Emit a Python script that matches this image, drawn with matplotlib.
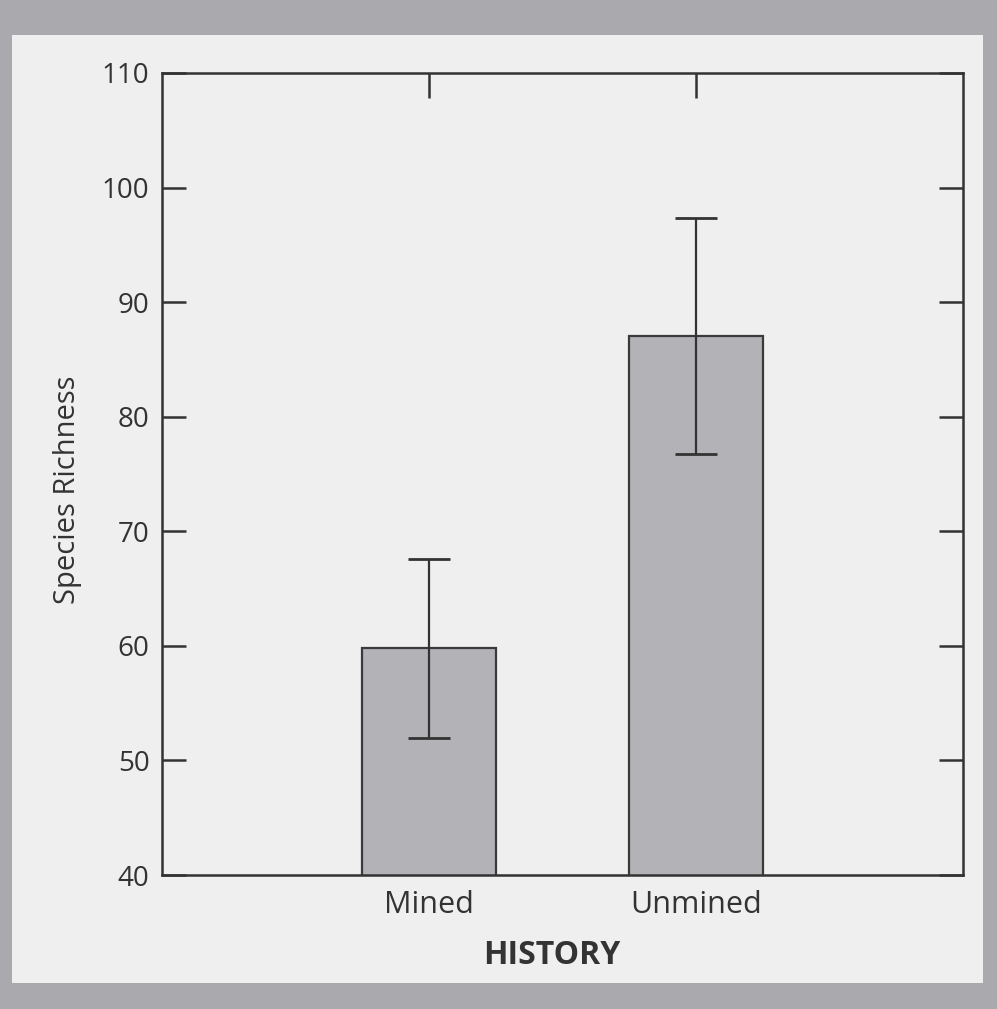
import matplotlib.pyplot as plt
import matplotlib.patches as patches

categories = ['Mined', 'Unmined']
means = [59.8, 87.0]
errors = [7.8, 10.3]
y_ticks = [40, 50, 60, 70, 80, 90, 100, 110]

plt.rcParams['font.family'] = ['Open Sans', 'DejaVu Sans']

fig = plt.figure(figsize=(9.97, 10.09), dpi=100)
fig.patch.set_facecolor('#a9a9ae')
# light page panel inside the grey scan border
fig.patches.append(patches.Rectangle((12 / 997, 1 - 983 / 1009), 971 / 997, 948 / 1009,
                                     transform=fig.transFigure, facecolor='#efeff0',
                                     edgecolor='none', zorder=-10))

ax = fig.add_axes([0.1625, 0.1328, 0.8034, 0.7949])
ax.set_facecolor('#efeff0')

x = list(range(len(categories)))
ax.bar(x, means, width=0.5, color='#b3b3b7', edgecolor='#3a3a3a', linewidth=1.6, zorder=2)
ax.errorbar(x, means, yerr=errors, fmt='none', ecolor='#333333', elinewidth=1.6,
            capsize=15, capthick=2, zorder=3)

ax.set_xlim(-1, 2)
ax.set_ylim(40, 110)
ax.set_yticks(y_ticks)
ax.set_xticks(x)
ax.set_xticklabels(categories)

for s in ax.spines.values():
    s.set_linewidth(1.8)
    s.set_color('#333333')

ax.tick_params(axis='y', direction='in', length=17, width=1.8, color='#333333',
               left=True, right=True, labelsize=20, labelcolor='#333333', pad=9)
ax.tick_params(axis='x', direction='in', length=18, width=1.8, color='#333333',
               bottom=False, top=True, labelsize=22, labelcolor='#333333', pad=11)

ax.set_ylabel('Species Richness', fontsize=21, color='#333333')
ax.yaxis.set_label_coords(-0.1, 0.48)
ax.set_xlabel('HISTORY', fontsize=23, fontweight='bold', color='#333333')
ax.xaxis.set_label_coords(0.487, -0.08)

fig.savefig('out.png', dpi=100, facecolor=fig.get_facecolor())
